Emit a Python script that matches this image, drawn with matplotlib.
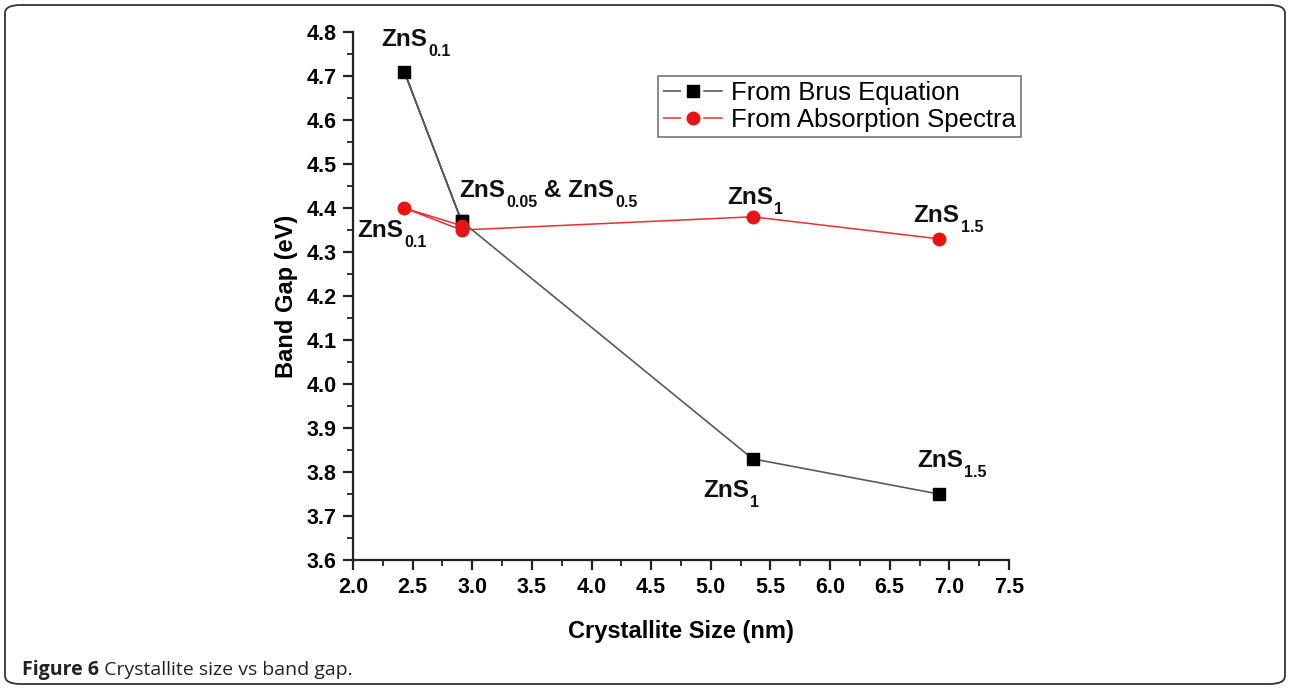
import matplotlib
matplotlib.use("Agg")
import matplotlib.pyplot as plt
from matplotlib.patches import FancyBboxPatch
from matplotlib.lines import Line2D
from matplotlib.transforms import IdentityTransform
from matplotlib.ticker import MultipleLocator, FormatStrFormatter

# ---- data ----
brus_x = [2.91, 2.43, 2.91, 5.35, 6.91]
brus_y = [4.37, 4.71, 4.37, 3.83, 3.75]
abs_x = [2.91, 2.43, 2.91, 5.35, 6.91]
abs_y = [4.36, 4.40, 4.35, 4.38, 4.33]
series_names = ["From Brus Equation", "From Absorption Spectra"]
x_label = "Crystallite Size (nm)"
y_label = "Band Gap (eV)"
caption_bold = "Figure 6"
caption_rest = " Crystallite size vs band gap."
# labels: (x, y baseline, parts)
labels = [
    (2.235, 4.769, [("ZnS", False), ("0.1", True)]),
    (2.889, 4.425, [("ZnS", False), ("0.05", True), (" & ZnS", False), ("0.5", True)]),
    (2.034, 4.334, [("ZnS", False), ("0.1", True)]),
    (5.135, 4.409, [("ZnS", False), ("1", True)]),
    (6.700, 4.368, [("ZnS", False), ("1.5", True)]),
    (4.934, 3.743, [("ZnS", False), ("1", True)]),
    (6.727, 3.811, [("ZnS", False), ("1.5", True)]),
]

plt.rcParams['font.family'] = ['Liberation Sans', 'DejaVu Sans']
plt.rcParams['lines.scale_dashes'] = False

W, H = 1290, 689
fig = plt.figure(figsize=(W / 100, H / 100), dpi=100)
ax = fig.add_axes([353 / W, 1 - 560 / H, (1009 - 353) / W, (560 - 32) / H])

brus_color = "#5a5a5a"
abs_color = "#e83030"
ax.plot(brus_x, brus_y, color=brus_color, lw=1.2, marker="s", ms=8,
        mfc="black", mec="black", zorder=3)
ax.plot(abs_x, abs_y, color=abs_color, lw=1.1, marker="o", ms=9,
        mfc="#ee1111", mec="#ee1111", zorder=3)

ax.set_xlim(2.0, 7.5)
ax.set_ylim(3.6, 4.8)
ax.xaxis.set_major_locator(MultipleLocator(0.5))
ax.xaxis.set_minor_locator(MultipleLocator(0.25))
ax.yaxis.set_major_locator(MultipleLocator(0.1))
ax.yaxis.set_minor_locator(MultipleLocator(0.05))
ax.xaxis.set_major_formatter(FormatStrFormatter("%.1f"))
ax.yaxis.set_major_formatter(FormatStrFormatter("%.1f"))
for s in ("top", "right"):
    ax.spines[s].set_visible(False)
for s in ("left", "bottom"):
    ax.spines[s].set_linewidth(1.6)
    ax.spines[s].set_color("#222222")
ax.tick_params(which="major", direction="out", length=7, width=1.6, color="#222222",
               labelsize=15.5, pad=5)
ax.tick_params(which="minor", direction="out", length=4, width=1.3, color="#222222")
for lab in ax.get_xticklabels() + ax.get_yticklabels():
    lab.set_fontweight("bold")

ax.set_xlabel(x_label, fontsize=17, fontweight="bold", labelpad=16)
ax.set_ylabel(y_label, fontsize=17, fontweight="bold", labelpad=6)

# legend handles: segment - marker - segment, with gaps
dash = (0, (13, 16, 14, 300))
h1 = Line2D([], [], color=brus_color, lw=1.2, ls=dash, marker="s", ms=8,
            mfc="black", mec="black")
h2 = Line2D([], [], color=abs_color, lw=1.1, ls=dash, marker="o", ms=9,
            mfc="#ee1111", mec="#ee1111")
leg = ax.legend([h1, h2], series_names, loc="upper left",
                bbox_to_anchor=(0.465, 0.917), fontsize=18.5,
                frameon=True, fancybox=False, edgecolor="#555555",
                handlelength=2.33, handletextpad=0.3, borderpad=0.2,
                labelspacing=0.12, borderaxespad=0)
leg.get_frame().set_linewidth(1.2)

# rich labels with subscripts
renderer = fig.canvas.get_renderer()
for (lx, ly, parts) in labels:
    px, py = ax.transData.transform((lx, ly))
    cur = px
    for txt, is_sub in parts:
        t = fig.text(cur, py - (10 if is_sub else 0), txt, transform=IdentityTransform(),
                     fontsize=11.5 if is_sub else 17.5, fontweight="bold",
                     ha="left", va="baseline", color="#111111")
        cur += t.get_window_extent(renderer).width + (0 if is_sub else 1)

# frame
frame = FancyBboxPatch((5 / W, 5 / H), (W - 10) / W, (H - 10) / H,
                       boxstyle="round,pad=0,rounding_size=0.012",
                       transform=fig.transFigure, fill=False,
                       edgecolor="#333333", lw=1.3, zorder=10)
fig.patches.append(frame)

# caption
ct = fig.text(22, H - 675, caption_bold, transform=IdentityTransform(),
              fontsize=14, fontweight="bold", family=["Open Sans", "DejaVu Sans"],
              ha="left", va="baseline", color="#222222")
w = ct.get_window_extent(renderer).width
fig.text(22 + w, H - 675, caption_rest, transform=IdentityTransform(),
         fontsize=14, family=["Open Sans", "DejaVu Sans"],
         ha="left", va="baseline", color="#222222")

fig.savefig("out.png", dpi=100)
